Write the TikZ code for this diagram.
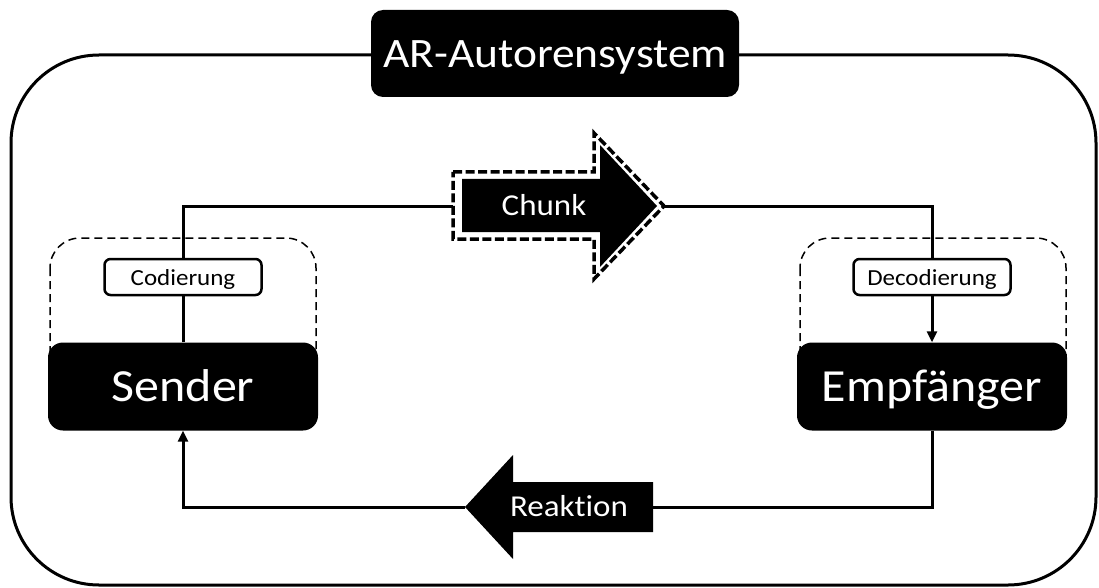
\documentclass[tikz,border=0pt]{standalone}
\usepackage{fontspec}
\usepackage{graphicx}
\setmainfont{Carlito}[Ligatures={NoCommon,NoRare}]
\usetikzlibrary{arrows.meta}
\newcommand{\vsq}[1]{\scalebox{1}[0.92]{#1}}
\begin{document}
\begin{tikzpicture}[x=1pt,y=-1pt,
  blackbox/.style={fill=black, text=white, rounded corners=15, minimum width=270pt, minimum height=88pt, inner sep=0pt, text height=36pt, text depth=6pt, font=\fontsize{50}{56}\selectfont},
  titlebox/.style={fill=black, text=white, rounded corners=12, minimum width=368pt, minimum height=87pt, inner sep=0pt, text height=35pt, text depth=6pt, font=\fontsize{45.5}{50}\selectfont},
  codebox/.style={draw=black, fill=white, line width=2.5pt, rounded corners=6, minimum width=157pt, minimum height=36pt, inner sep=0pt, text height=18pt, text depth=2pt, font=\fontsize{25}{28}\selectfont},
  dashedbox/.style={draw=black, line width=1.5pt, dash pattern=on 8pt off 5pt, rounded corners=30},
  conn/.style={draw=black, line width=3pt},
  tip/.style={-{Triangle[length=11pt,width=10pt]}},
  arrowlabel/.style={text=white, inner sep=0pt, text height=22pt, text depth=4pt, font=\fontsize{33}{36}\selectfont}
]
\useasboundingbox (0,0) rectangle (1099,588);
% outer frame
\draw[line width=3pt, rounded corners=88] (11,55) rectangle (1096,585);
\node[titlebox] (title) at (555,53.5) {\vsq{AR-Autorensystem}};
% dashed boxes
\draw[dashedbox] (50,238) rectangle (316,390);
\draw[dashedbox] (800,238) rectangle (1066,390);
% main boxes
\node[blackbox] (sender) at (183,386.5) {\vsq{Sender}};
\node[blackbox] (empf) at (932,386.5) {\vsq{Empfänger}};
\node[codebox] (cod) at (183,277) {\vsq{Codierung}};
\node[codebox] (dec) at (932,277) {\vsq{Decodierung}};
% chunk arrow
\coordinate (chunkL) at (453,206);
\coordinate (chunkR) at (664,206);
\fill[black] (462,179) -- (600,179) -- (600,145) -- (657,206) -- (600,267) -- (600,232) -- (462,232) -- cycle;
\draw[line width=3.5pt, dash pattern=on 9pt off 3.5pt, line join=miter] (453,172) -- (594,172) -- (594,133) -- (664,206) -- (594,279) -- (594,239) -- (453,239) -- cycle;
\node[arrowlabel] (chunk) at (544,206) {\vsq{Chunk}};
% reaktion arrow
\coordinate (reakR) at (653,507);
\coordinate (reakL) at (465,507);
\fill[black] (653,482) -- (513,482) -- (513,455) -- (465,507) -- (513,559) -- (513,532) -- (653,532) -- cycle;
\node[arrowlabel] (reak) at (569,507) {\vsq{Reaktion}};
% connectors
\draw[conn] (sender.north) -- (cod.south);
\draw[conn] (cod.north) |- (chunkL);
\draw[conn] (chunkR) -| (dec.north);
\draw[conn,tip] (dec.south) -- (empf.north);
\draw[conn] (empf.south) |- (reakR);
\draw[conn,tip] (reakL) -| (sender.south);
\end{tikzpicture}
\end{document}
